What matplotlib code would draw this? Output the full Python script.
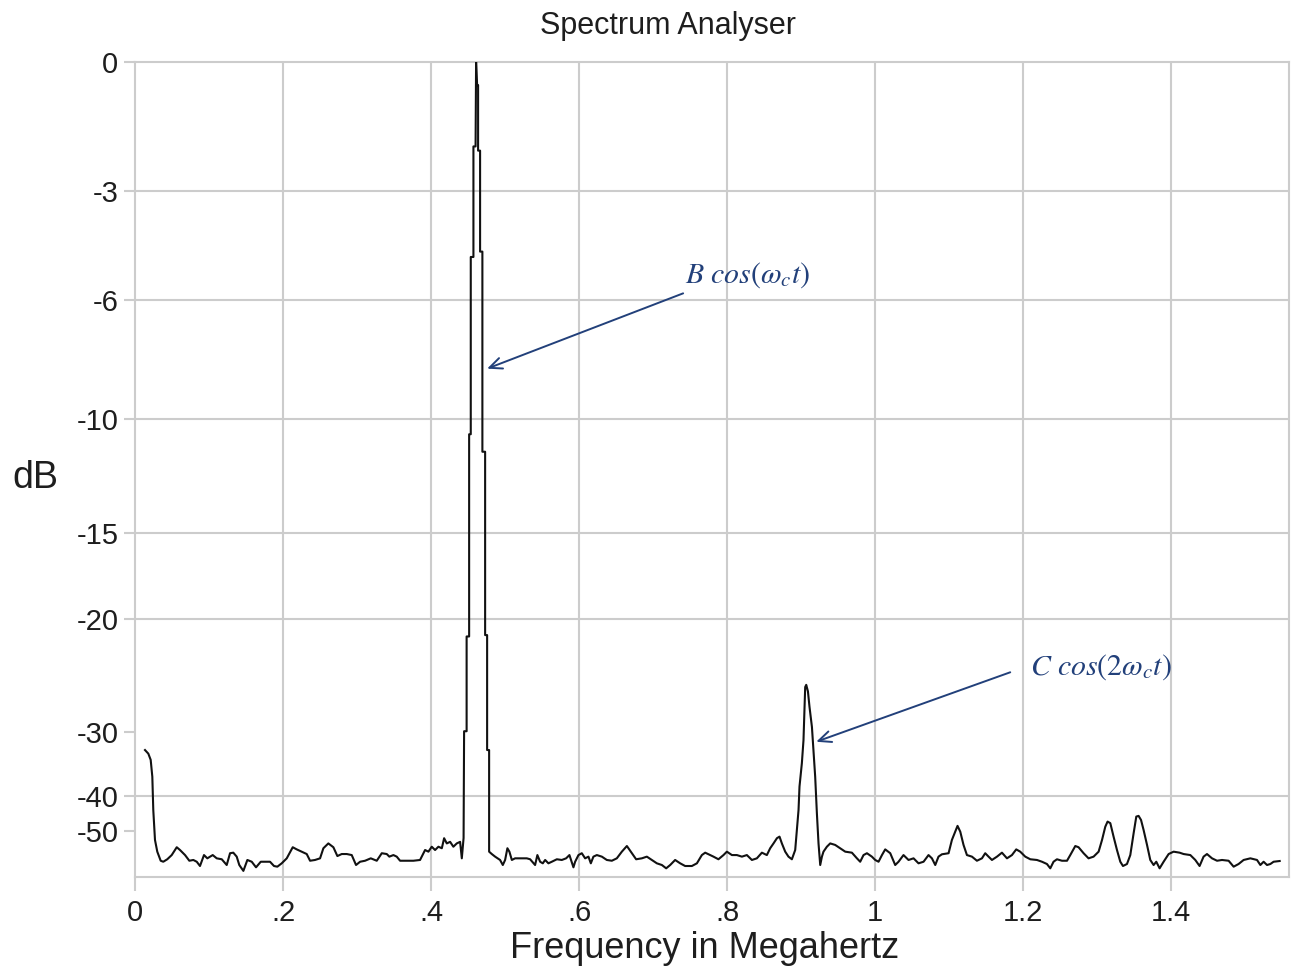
import numpy as np
import matplotlib
matplotlib.use("Agg")
import matplotlib.pyplot as plt

plt.rcParams["font.family"] = ["Liberation Sans Narrow", "Liberation Sans", "DejaVu Sans"]

TITLE = "Spectrum Analyser"
X_LABEL = "Frequency in Megahertz"
Y_LABEL = "dB"

# (frequency in MHz, level in dB), left to right
LOW_NOISE = [
    (0.0135, -32.3), (0.0180, -32.8), (0.0212, -33.7), (0.0234, -36.4), (0.0247, -43.4),
    (0.0270, -53.7), (0.0301, -60.3), (0.0347, -68.0), (0.0382, -69.1), (0.0436, -66.5),
    (0.0496, -62.8), (0.0564, -57.5), (0.0608, -59.2), (0.0676, -62.8), (0.0734, -68.0),
    (0.0788, -67.2), (0.0834, -69.1), (0.0878, -74.8), (0.0932, -62.8), (0.0977, -65.6),
    (0.1050, -62.8), (0.1104, -65.6), (0.1172, -66.5), (0.1239, -73.3), (0.1284, -61.4),
    (0.1328, -61.0), (0.1374, -64.1), (0.1409, -73.3), (0.1464, -85.0), (0.1518, -67.2),
    (0.1577, -69.1), (0.1635, -77.0), (0.1699, -69.1), (0.1780, -69.1), (0.1824, -69.1),
    (0.1878, -74.8), (0.1923, -75.9), (0.1982, -71.0), (0.2050, -65.6), (0.2131, -57.5),
    (0.2185, -58.8), (0.2253, -60.3), (0.2320, -62.0), (0.2365, -68.0), (0.2432, -67.2),
    (0.2500, -65.6), (0.2545, -58.1), (0.2612, -55.4), (0.2680, -57.5), (0.2734, -63.6),
    (0.2793, -62.0), (0.2861, -62.0), (0.2928, -62.8), (0.2986, -73.3), (0.3041, -69.1),
    (0.3108, -68.0), (0.3185, -65.6), (0.3266, -68.0), (0.3334, -61.4), (0.3401, -62.0),
    (0.3436, -64.1), (0.3491, -62.8), (0.3536, -64.1), (0.3581, -68.0), (0.3672, -68.0),
    (0.3761, -68.0), (0.3851, -67.2), (0.3919, -59.2), (0.3964, -60.3), (0.4009, -57.2),
    (0.4054, -59.2), (0.4099, -57.2), (0.4145, -58.1), (0.4176, -52.9), (0.4212, -55.4),
    (0.4257, -54.6), (0.4301, -57.2), (0.4347, -55.4), (0.4392, -54.6), (0.4415, -65.6),
    (0.4439, -52.8),
]
CARRIER_PEAK = [
    (0.4446, -29.9), (0.4480, -29.9), (0.4480, -21.2), (0.4514, -21.2), (0.4514, -10.6),
    (0.4536, -10.6), (0.4536, -4.75), (0.4572, -4.75), (0.4572, -1.9), (0.4601, -1.9),
    (0.4608, 0.0), (0.4622, -0.5), (0.4635, -0.5), (0.4635, -2.0), (0.4662, -2.0),
    (0.4662, -4.6), (0.4693, -4.6), (0.4693, -11.3), (0.4730, -11.3), (0.4730, -21.1),
    (0.4757, -21.1), (0.4757, -32.3), (0.4784, -32.3), (0.4784, -60.3),
]
MID_NOISE = [
    (0.4820, -62.0), (0.4865, -64.1), (0.4932, -67.2), (0.4969, -73.3), (0.5000, -67.2),
    (0.5031, -58.1), (0.5058, -60.3), (0.5091, -67.2), (0.5135, -65.6), (0.5203, -65.6),
    (0.5293, -65.6), (0.5338, -66.5), (0.5405, -73.3), (0.5436, -62.8), (0.5473, -69.1),
    (0.5509, -71.0), (0.5541, -67.2), (0.5585, -71.0), (0.5631, -69.1), (0.5699, -66.5),
    (0.5766, -67.2), (0.5824, -65.6), (0.5869, -62.8), (0.5923, -77.0), (0.5946, -69.1),
    (0.5991, -62.8), (0.6036, -61.4), (0.6081, -65.6), (0.6126, -64.1), (0.6158, -71.0),
    (0.6193, -64.1), (0.6239, -62.8), (0.6307, -64.1), (0.6374, -67.2), (0.6442, -68.0),
    (0.6509, -65.6), (0.6577, -60.3), (0.6645, -56.8), (0.6712, -61.4), (0.6770, -66.5),
    (0.6847, -65.6), (0.6915, -64.1), (0.6982, -67.2), (0.7050, -71.0), (0.7118, -73.3),
    (0.7176, -78.9), (0.7230, -73.3), (0.7297, -67.2), (0.7365, -71.0), (0.7432, -74.8),
    (0.7523, -74.8), (0.7591, -71.0), (0.7658, -62.8), (0.7703, -61.0), (0.7770, -62.8),
    (0.7815, -64.1), (0.7882, -66.5), (0.7950, -62.8), (0.7996, -60.3), (0.8064, -62.8),
    (0.8131, -62.8), (0.8199, -64.1), (0.8266, -62.8), (0.8334, -67.2), (0.8401, -65.6),
    (0.8469, -61.0), (0.8536, -62.8), (0.8581, -58.1), (0.8626, -55.4), (0.8672, -52.9),
    (0.8707, -52.2), (0.8739, -55.4), (0.8784, -60.3), (0.8828, -64.1), (0.8874, -66.5),
    (0.8919, -59.2),
]
HARMONIC_PEAK = [
    (0.8942, -49.6), (0.8964, -43.4), (0.8977, -38.2), (0.9009, -34.2), (0.9031, -31.0),
    (0.9045, -27.5), (0.9054, -25.3), (0.9068, -25.1), (0.9091, -25.7), (0.9112, -27.2),
    (0.9145, -29.4), (0.9166, -32.3), (0.9189, -36.4), (0.9212, -44.3), (0.9234, -55.4),
    (0.9257, -73.3),
]
HIGH_NOISE = [
    (0.9280, -64.1), (0.9301, -60.3), (0.9347, -57.2), (0.9392, -55.4), (0.9459, -56.2),
    (0.9527, -58.1), (0.9595, -60.3), (0.9685, -61.0), (0.9753, -65.6), (0.9797, -69.1),
    (0.9842, -62.8), (0.9888, -61.4), (0.9955, -64.1), (1.0000, -67.2), (1.0045, -69.1),
    (1.0091, -62.8), (1.0135, -58.8), (1.0203, -61.4), (1.0270, -73.3), (1.0315, -69.1),
    (1.0382, -62.8), (1.0450, -67.2), (1.0518, -65.6), (1.0585, -71.0), (1.0653, -69.1),
    (1.0720, -62.8), (1.0766, -65.6), (1.0811, -73.3), (1.0855, -64.1), (1.0901, -62.2),
    (1.0991, -61.4), (1.1036, -53.7), (1.1081, -50.2), (1.1112, -48.1), (1.1149, -50.2),
    (1.1193, -56.2), (1.1239, -62.8), (1.1307, -64.1), (1.1374, -68.0), (1.1442, -65.6),
    (1.1486, -61.4), (1.1531, -64.1), (1.1577, -67.2), (1.1645, -64.1), (1.1712, -61.0),
    (1.1780, -65.6), (1.1847, -62.8), (1.1905, -58.8), (1.1959, -60.3), (1.2027, -64.1),
    (1.2095, -66.5), (1.2185, -67.2), (1.2253, -69.1), (1.2320, -71.9), (1.2365, -78.9),
    (1.2409, -69.1), (1.2455, -66.5), (1.2523, -68.0), (1.2591, -68.0), (1.2635, -62.8),
    (1.2703, -56.8), (1.2747, -57.5), (1.2815, -61.4), (1.2882, -65.6), (1.2950, -64.1),
    (1.3018, -60.3), (1.3064, -53.7), (1.3108, -48.4), (1.3139, -46.7), (1.3176, -47.2),
    (1.3220, -52.2), (1.3266, -59.2), (1.3311, -69.1), (1.3347, -74.8), (1.3401, -71.9),
    (1.3446, -62.8), (1.3491, -50.8), (1.3527, -45.2), (1.3558, -45.0), (1.3591, -46.2),
    (1.3626, -49.6), (1.3672, -56.2), (1.3716, -67.2), (1.3761, -73.3), (1.3797, -69.1),
    (1.3842, -78.9), (1.3896, -69.1), (1.3964, -62.0), (1.4031, -60.3), (1.4112, -61.0),
    (1.4166, -62.0), (1.4257, -62.8), (1.4324, -67.2), (1.4382, -74.8), (1.4436, -64.1),
    (1.4482, -62.0), (1.4550, -65.6), (1.4618, -68.0), (1.4685, -67.2), (1.4774, -68.0),
    (1.4842, -75.9), (1.4909, -71.9), (1.4977, -67.2), (1.5068, -65.6), (1.5158, -67.2),
    (1.5203, -73.3), (1.5247, -69.1), (1.5293, -73.3), (1.5338, -71.9), (1.5382, -69.1),
    (1.5464, -68.3),
]

X_TICKS = [0, 0.2, 0.4, 0.6, 0.8, 1.0, 1.2, 1.4]
X_TICK_LABELS = ["0", ".2", ".4", ".6", ".8", "1", "1.2", "1.4"]
Y_TICKS = [0, -3, -6, -10, -15, -20, -30, -40, -50]
Y_GRID = [-3, -6, -10, -15, -20, -40]

# annotations: text anchor, arrow tail, arrow tip  (MHz, dB)
B_TEXT = (0.7432, -5.26)
B_TAIL = (0.7405, -5.8)
B_TIP = (0.4757, -8.2)
C_TEXT = (1.2095, -23.6)
C_TAIL = (1.1824, -24.0)
C_TIP = (0.9203, -31.2)

GRID_GREY = "#cccccc"
NAVY = "#22407a"


def db_to_axis(db):
    # the analyser axis is linear in the square root of amplitude
    return np.power(10.0, np.asarray(db, dtype=float) / 40.0)


def axis_to_db(v):
    return 40.0 * np.log10(np.maximum(np.asarray(v, dtype=float), 1e-12))


trace = LOW_NOISE + CARRIER_PEAK + MID_NOISE + HARMONIC_PEAK + HIGH_NOISE
freq = [p[0] for p in trace]
level = [p[1] for p in trace]

fig = plt.figure(figsize=(12.91, 9.73), dpi=100)
ax = fig.add_axes([135 / 1291, 1 - 877 / 973, (1289 - 135) / 1291, (877 - 62) / 973])
ax.set_yscale("function", functions=(db_to_axis, axis_to_db))

for g in Y_GRID:
    ax.axhline(g, color=GRID_GREY, lw=1.5, zorder=1)
for g in X_TICKS[1:]:
    ax.axvline(g, color=GRID_GREY, lw=1.5, zorder=1)

ax.plot(freq, level, color="#111111", lw=1.5, zorder=3)

ax.set_xlim(0, 1.559)
ax.set_ylim(-300, 0)
ax.set_xticks(X_TICKS)
ax.set_xticklabels(X_TICK_LABELS)
ax.set_yticks(Y_TICKS)
ax.set_yticklabels([str(t) for t in Y_TICKS])
ax.minorticks_off()

for sp in ax.spines.values():
    sp.set_color(GRID_GREY)
    sp.set_linewidth(1.5)
ax.tick_params(axis="both", direction="out", color=GRID_GREY, width=1.5,
               labelsize=21, labelcolor="#1e1e1e")
ax.tick_params(axis="x", length=10, pad=6)
ax.tick_params(axis="y", length=8, pad=4)

fig.text(668 / 1291, 1 - 26 / 973, TITLE, ha="center", va="center", fontsize=22, color="#1e1e1e")
fig.text(705 / 1291, 1 - 948 / 973, X_LABEL, ha="center", va="center", fontsize=26, color="#1e1e1e")
fig.text(35 / 1291, 1 - 478 / 973, Y_LABEL, ha="center", va="center", fontsize=27, color="#1e1e1e")

arrow = dict(arrowstyle="->,head_length=0.9,head_width=0.4", color=NAVY, lw=1.4,
             shrinkA=0, shrinkB=0)
ax.annotate("", xy=B_TIP, xytext=B_TAIL, arrowprops=arrow, zorder=4)
ax.annotate("", xy=C_TIP, xytext=C_TAIL, arrowprops=arrow, zorder=4)
ax.text(*B_TEXT, r"$B\ cos(\omega_c t)$", ha="left", va="center", fontsize=21.5,
        color=NAVY, math_fontfamily="stix")
ax.text(*C_TEXT, r"$C\ cos(2\omega_c t)$", ha="left", va="center", fontsize=21.5,
        color=NAVY, math_fontfamily="stix")

fig.savefig("out.png", dpi=100)
